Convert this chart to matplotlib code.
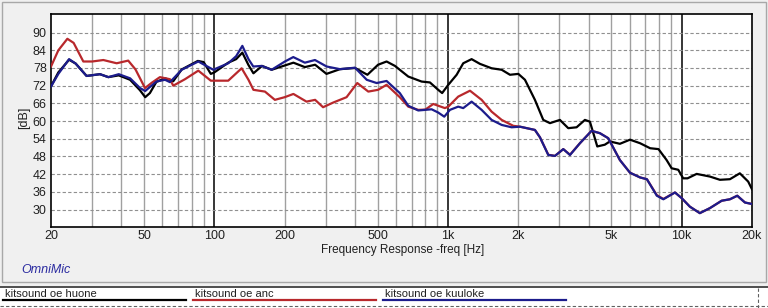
import matplotlib
matplotlib.use("Agg")
import matplotlib.pyplot as plt
import numpy as np
from matplotlib.patches import Rectangle
from matplotlib.lines import Line2D

# ---- data (freq in Hz, level in dB) ----
huone_f = [20, 21.5, 23.9, 25.5, 28.4, 32.4, 35.2, 39, 43.6, 48, 50.6, 53, 56.5, 61.5, 66.7,
           72.5, 85, 90, 96.6, 100, 114.7, 124, 131.8, 140, 147, 160, 176, 194, 218, 244,
           270, 302, 345, 400, 452, 502, 546, 593, 676, 771, 837, 908, 944, 1003, 1089,
           1162, 1262, 1370, 1537, 1697, 1842, 2000, 2135, 2355, 2557, 2731, 3012, 3271,
           3551, 3855, 4049, 4354, 4690, 4929, 5440, 6010, 6637, 7330, 7960, 8620, 9060,
           9670, 10150, 10600, 11590, 13210, 14580, 16090, 17740, 19260, 20000]
huone_db = [71.8, 76.5, 80.8, 79.5, 75.3, 75.9, 74.9, 75.5, 74.0, 70.5, 68.1, 69.5, 73.3, 74.5, 73.5,
            77.5, 80.4, 80.0, 76.0, 76.5, 79.8, 81.0, 83.2, 79.0, 76.2, 78.7, 77.4, 78.5, 79.8, 78.3,
            79.1, 76.0, 77.6, 78.0, 75.7, 79.1, 80.2, 78.7, 75.1, 73.4, 73.1, 70.6, 69.5, 72.3, 75.7,
            79.6, 81.0, 79.4, 77.9, 77.4, 75.7, 76.0, 74.0, 67.2, 60.4, 59.3, 60.4, 57.6,
            57.9, 60.4, 59.8, 51.4, 52.0, 53.1, 52.3, 53.7, 52.5, 50.8, 50.5, 46.8, 44.0,
            43.5, 40.6, 40.6, 42.1, 41.2, 40.1, 40.3, 42.3, 39.5, 36.9]

anc_f = [20, 21.5, 23.5, 25, 27.5, 30, 33.5, 38.2, 42.8, 46, 50.5, 54, 58.5, 64.6, 66.7,
         74.9, 85.4, 96.6, 114.7, 130.9, 140, 147, 164.7, 181.6, 200, 218, 248, 270, 292,
         323, 368, 409, 456, 502, 546, 622, 676, 746, 800, 865, 970, 1003, 1106, 1242,
         1393, 1537, 1697, 1903, 2033, 2355, 2475, 2687, 2869, 3115, 3327, 3670, 4116,
         4467, 4850, 5440, 6010, 6637, 7100, 7830, 8350, 9360, 10000, 10840, 11960, 13210,
         14830, 16090, 17300, 18660, 20000]
anc_db = [78.5, 84.0, 87.9, 86.5, 80.2, 80.2, 80.7, 79.6, 80.5, 77.5, 71.2, 73.0, 74.9, 74.2, 72.0,
          74.2, 77.1, 73.7, 73.7, 77.9, 74.0, 70.6, 70.0, 67.2, 68.1, 69.2, 66.6, 67.2, 64.7,
          66.3, 68.1, 72.9, 70.0, 70.6, 72.3, 68.1, 64.9, 63.8, 63.9, 65.8, 64.4, 64.9, 68.3, 70.3,
          67.2, 63.2, 60.4, 58.4, 58.1, 57.0, 54.5, 48.6, 48.2, 50.5, 48.6, 52.5, 56.7,
          55.9, 54.2, 46.8, 42.5, 40.9, 40.3, 34.9, 33.6, 35.8, 33.9, 31.0, 28.8, 30.5,
          33.0, 33.5, 34.7, 32.4, 31.9]

kuuloke_f = [20, 21.5, 23.9, 25.5, 28.4, 32.4, 35.2, 39, 43.6, 48.1, 50.6, 56.5, 61.5, 64.6,
             72.5, 85.4, 99, 114.7, 124, 131.8, 140, 146.8, 159.5, 175.9, 200.5, 217.7, 244,
             269.6, 302.5, 345, 400, 449, 495, 546, 622, 676, 746, 851, 908, 964, 1019, 1106,
             1162, 1262, 1393, 1537, 1697, 1872, 2033, 2355, 2475, 2687, 2869, 3115, 3327,
             3670, 4116, 4467, 4850, 5440, 6010, 6637, 7100, 7830, 8350, 9360, 10000, 10840,
             11960, 13210, 14830, 16090, 17300, 18660, 20000]
kuuloke_db = [71.7, 76.0, 81.0, 79.5, 75.3, 75.9, 74.9, 75.9, 74.5, 71.2, 70.2, 73.4, 74.0, 73.2,
              77.4, 80.2, 77.4, 79.6, 82.0, 85.5, 81.0, 78.5, 78.7, 77.4, 80.2, 81.7, 79.8,
              80.7, 78.5, 77.6, 78.1, 74.0, 72.9, 73.6, 69.5, 65.2, 63.6, 64.0, 62.9, 61.5, 63.8, 64.9,
              64.4, 66.6, 63.8, 60.4, 58.7, 57.9, 58.1, 57.0, 54.5, 48.5, 48.2, 50.5, 48.5,
              52.5, 56.7, 55.9, 54.2, 46.8, 42.5, 40.9, 40.3, 34.7, 33.5, 35.8, 33.9, 31.0,
              28.8, 30.5, 33.0, 33.5, 34.7, 32.4, 31.9]

series_names = ["kitsound oe huone", "kitsound oe anc", "kitsound oe kuuloke"]
series_colors = ["#000000", "#b8282c", "#1c1c8c"]

y_ticks = [30, 36, 42, 48, 54, 60, 66, 72, 78, 84, 90]
x_ticks = [20, 50, 100, 200, 500, 1000, 2000, 5000, 10000, 20000]
x_tick_labels = ["20", "50", "100", "200", "500", "1k", "2k", "5k", "10k", "20k"]

W, H = 768, 308
fig = plt.figure(figsize=(W / 100, H / 100), dpi=100, facecolor="#f0f0f0")
plt.rcParams['font.family'] = ['Liberation Sans', 'DejaVu Sans']

ax = fig.add_axes([51 / W, 1 - 227 / H, 701 / W, 213 / H])
ax.set_xscale("log")
ax.set_xlim(20, 20000)
ax.set_ylim(24.1, 96.3)

# vertical grid lines
minor = [d * m for d in (10, 100, 1000, 10000) for m in range(2, 10)]
for f in minor:
    if 20 < f < 20000:
        ax.axvline(f, color="#a0a0a0", lw=1.0, zorder=1)
for f in (100, 1000, 10000):
    ax.axvline(f, color="black", lw=1.1, zorder=1)
for yv in y_ticks:
    ax.axhline(yv, color="#909090", lw=0.8, ls=(0, (3, 2)), zorder=1)

for f, db, c in zip((huone_f, anc_f, kuuloke_f), (huone_db, anc_db, kuuloke_db), series_colors):
    ax.plot(f, db, color=c, lw=1.6, zorder=3)

ax.set_xticks(x_ticks)
ax.set_xticklabels(x_tick_labels)
ax.xaxis.set_minor_locator(matplotlib.ticker.NullLocator())
ax.set_yticks(y_ticks)
ax.tick_params(length=0, labelsize=9, colors="#202020")
ax.tick_params(axis="x", pad=2)
ax.tick_params(axis="y", pad=3)
for s in ax.spines.values():
    s.set_linewidth(1.2)
    s.set_color("black")

fig.text(403 / W, 1 - 250 / H, "Frequency Response -freq [Hz]", ha="center", va="center",
         fontsize=8.5, color="#202020")
fig.text(24 / W, 1 - 118 / H, "[dB]", ha="center", va="center", rotation=90,
         fontsize=9, color="#202020")
fig.text(21 / W, 1 - 270 / H, "OmniMic", ha="left", va="center", style="italic",
         fontsize=9, color="#2a2aa0")

# outer frame
fig.patches.append(Rectangle((2 / W, 1 - 282 / H), 764 / W, 280 / H, transform=fig.transFigure,
                             fill=False, ec="#a8a8a8", lw=1.0))

# legend strip at the bottom
fig.patches.append(Rectangle((0, 0), 1, 22 / H, transform=fig.transFigure,
                             fc="white", ec="none"))
fig.lines.append(Line2D([0, 1], [1 - 286.5 / H] * 2, transform=fig.transFigure,
                        color="#303030", lw=1.2))
fig.lines.append(Line2D([0, 1], [1 - 306 / H] * 2, transform=fig.transFigure,
                        color="#606060", lw=0.8, ls=(0, (3, 2))))
fig.lines.append(Line2D([758 / W] * 2, [0, 1 - 287 / H], transform=fig.transFigure,
                        color="#606060", lw=0.8, ls=(0, (3, 2))))
for i, (name, c) in enumerate(zip(series_names, series_colors)):
    x0 = 3 + i * 190
    fig.text((x0 + 2) / W, 1 - 294 / H, name, ha="left", va="center", fontsize=8, color="#202020")
    fig.lines.append(Line2D([x0 / W, (x0 + 183) / W], [1 - 300 / H] * 2,
                            transform=fig.transFigure, color=c, lw=1.6))

fig.savefig("out.png", dpi=100, facecolor=fig.get_facecolor())
